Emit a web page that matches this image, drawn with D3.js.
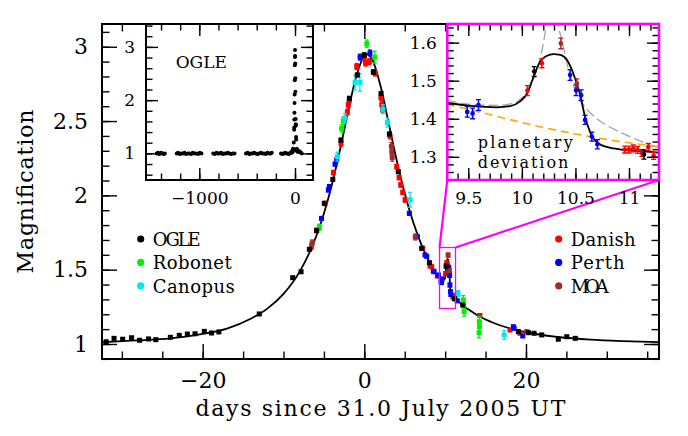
<!DOCTYPE html>
<html><head><meta charset="utf-8">
<script src="https://cdn.jsdelivr.net/npm/d3@7"></script>
<style>
body{margin:0;background:#fff}
svg{display:block}
text{font-family:"DejaVu Serif",serif;fill:#000}
</style>
</head><body>
<svg id="c" width="688" height="436"></svg>
<script>
// ---------------- DATA ----------------
// [days since 31.0 July 2005, magnification, error]
const ogle = [[-31.95,1.015,0.006],[-30.97,1.038,0.006],[-29.9,1.032,0.006],[-28.8,1.042,0.006],[-27.8,1.025,0.006],[-26.7,1.034,0.006],[-25.8,1.029,0.006],[-24.0,1.045,0.006],[-22.9,1.058,0.006],[-21.9,1.067,0.006],[-20.95,1.069,0.006],[-19.8,1.085,0.006],[-18.9,1.074,0.006],[-18.0,1.081,0.006],[-13.0,1.202,0.006],[-8.86,1.446,0.008],[-7.83,1.486,0.008],[-6.8,1.637,0.008],[-5.9,1.762,0.01],[-4.95,1.946,0.01],[-3.9,2.108,0.01],[-2.9,2.372,0.012],[-1.85,2.653,0.012],[-0.87,2.81,0.012],[0.0,2.944,0.015],[1.11,2.83,0.015],[2.07,2.686,0.012],[3.1,2.413,0.012],[4.2,2.159,0.01],[7.1,1.644,0.008],[8.05,1.547,0.008],[10.115,1.524,0.013],[11.14,1.306,0.012],[12.18,1.262,0.006],[19.06,1.083,0.006],[20.3,1.076,0.006],[21.0,1.072,0.006],[21.95,1.061,0.006],[24.0,1.032,0.006],[25.05,1.049,0.006],[26.1,1.038,0.006]];
const robonet = [[-5.57,1.785,0.02],[-2.8,2.45,0.025],[-2.6,2.50,0.025],[0.3,3.02,0.025],[1.3,2.93,0.04],[12.25,1.296,0.03],[12.3,1.256,0.03],[12.35,1.218,0.03],[14.23,1.15,0.035],[14.25,1.116,0.035],[14.2,1.076,0.035]];
const canopus = [[-3.34,2.26,0.03],[-2.39,2.52,0.03],[-1.15,2.76,0.05],[-0.55,2.76,0.06],[2.3,2.58,0.03],[2.85,2.49,0.03],[5.66,1.97,0.05],[11.6,1.34,0.02],[17.3,1.06,0.03]];
const danish = [[-5.9,1.765,0.015],[-4.87,1.946,0.015],[-3.83,2.153,0.015],[-2.88,2.35,0.02],[-2.1,2.56,0.02],[-1.98,2.61,0.02],[-1.85,2.64,0.02],[-0.94,2.867,0.02],[0.0,2.93,0.02],[0.15,2.89,0.02],[0.62,2.90,0.02],[1.32,2.823,0.02],[2.05,2.66,0.02],[2.15,2.61,0.02],[2.25,2.58,0.02],[3.18,2.40,0.02],[4.0,2.193,0.015],[4.3,2.12,0.015],[4.5,2.07,0.015],[4.75,2.02,0.015],[5.04,1.969,0.015],[7.22,1.644,0.012],[8.13,1.525,0.01],[8.34,1.52,0.01],[9.03,1.457,0.01],[10.052,1.474,0.013],[10.187,1.546,0.012],[10.96,1.319,0.009],[11.0,1.319,0.009],[11.04,1.322,0.009],[11.08,1.318,0.009],[11.12,1.31,0.009],[11.18,1.326,0.009],[11.23,1.302,0.009],[14.3,1.192,0.01],[18.03,1.094,0.008],[19.27,1.072,0.008],[20.1,1.083,0.008]];
const perth = [[-5.3,1.845,0.012],[-4.45,2.036,0.012],[-4.33,2.06,0.012],[-3.63,2.21,0.012],[-3.42,2.24,0.012],[-0.53,2.93,0.02],[0.7,2.958,0.02],[5.57,1.879,0.012],[6.56,1.722,0.012],[7.51,1.599,0.01],[7.72,1.59,0.01],[8.54,1.49,0.01],[8.63,1.486,0.01],[9.16,1.464,0.01],[9.49,1.418,0.014],[9.54,1.414,0.014],[9.595,1.436,0.014],[10.45,1.515,0.014],[10.506,1.475,0.014],[10.553,1.462,0.014],[10.59,1.397,0.012],[10.653,1.353,0.012],[10.705,1.333,0.012],[11.5,1.29,0.01],[18.44,1.116,0.01],[18.53,1.106,0.01],[19.6,1.054,0.01]];
const moa = [[-6.55,1.655,0.02],[-6.45,1.68,0.02],[3.35,2.33,0.025],[3.4,2.29,0.025],[3.45,2.255,0.025],[6.3,1.72,0.02],[10.364,1.598,0.014],[10.513,1.493,0.012]];
// OGLE baseline seasons (inset), [day, magnification]
const oglePre = [[-1445,1.00],[-1432,1.01],[-1420,0.99],[-1410,1.00],[-1398,1.01],[-1385,1.00],[-1372,0.99],[-1360,1.00],
 [-1236,1.00],[-1222,1.01],[-1205,0.99],[-1190,1.00],[-1172,1.00],[-1155,1.01],[-1140,0.99],[-1120,1.00],[-1102,1.00],[-1085,0.99],[-1068,1.01],[-1050,1.00],[-1030,1.00],[-1012,0.99],[-995,1.01],[-978,1.00],
 [-854,1.00],[-838,0.99],[-820,1.01],[-805,1.00],[-790,1.00],[-772,1.01],[-755,0.99],[-738,1.00],[-720,1.00],[-702,1.01],[-685,1.00],[-668,0.99],[-650,1.00],[-632,1.00],
 [-512,1.00],[-495,1.01],[-478,0.99],[-462,1.00],[-445,1.00],[-428,1.01],[-410,1.00],[-392,0.99],[-375,1.00],[-358,1.01],[-340,1.00],[-322,1.00],[-305,0.99],[-288,1.01],[-270,1.00],[-255,1.00],[-243,1.01],
 [-146,1.00],[-132,0.99],[-118,1.00],[-104,1.01],[-90,1.00],[-76,1.00],[-62,0.99],[-48,1.01],[-38,1.01],
 [40,1.03],[47,1.04],[55,1.02],[62,1.01],[70,1.00]];
// best-fit model (black)
const modelT = [-32.5,-28,-24,-20,-17,-14,-12,-10,-8,-6,-5,-4,-3,-2,-1,0,0.35,1,2,3,4,5,6,7,8,9,9.3,9.55,9.765,9.89,9.98,10.05,10.11,10.17,10.23,10.295,10.36,10.42,10.48,10.54,10.59,10.65,10.715,10.855,11.1,11.27,11.6,12,13,14,16,20,24,28,32,36.5];
const modelA = [1.013,1.024,1.038,1.068,1.104,1.172,1.238,1.337,1.487,1.718,1.878,2.075,2.31,2.567,2.80,2.938,2.948,2.912,2.737,2.489,2.236,2.012,1.827,1.677,1.557,1.460,1.442,1.433,1.430,1.433,1.445,1.467,1.511,1.550,1.565,1.570,1.568,1.555,1.519,1.467,1.405,1.357,1.335,1.322,1.315,1.311,1.292,1.268,1.228,1.193,1.141,1.079,1.047,1.029,1.019,1.012];
// point-lens without planet (orange dashed)
const plT = [9.3,9.6,9.9,10.2,10.5,10.8,11.1,11.3];
const plA = [1.438,1.418,1.397,1.377,1.360,1.345,1.333,1.325];
// alternative model (grey dashed)
const altT = [9.3,9.45,9.61,9.77,9.92,10.0,10.08,10.13,10.17,10.2,10.227,10.25,10.27,10.31,10.34,10.365,10.39,10.435,10.5,10.575,10.7,10.85,11.0,11.17,11.3];
const altA = [1.449,1.440,1.436,1.435,1.441,1.455,1.488,1.520,1.558,1.598,1.645,1.70,1.76,1.76,1.649,1.615,1.585,1.528,1.475,1.437,1.400,1.374,1.354,1.334,1.322];
// legend
const legendLeft = ["OGLE","Robonet","Canopus"];
const legendRight = ["Danish","Perth","MOA"];
const mainXTicks = [-20,0,20], mainYTicks = [1,1.5,2,2.5,3];
const ogleXTicks = [-1000,0], ogleYTicks = [1,2,3];
const devXTicks = [9.5,10,10.5,11], devYTicks = [1.3,1.4,1.5,1.6];

// ---------------- STYLE ----------------
const colors = {OGLE:"#000000",Robonet:"#00ee00",Canopus:"#00e8f0",Danish:"#ff0000",Perth:"#0000ff",MOA:"#a52a2a"};
const seriesData = {OGLE:ogle,Robonet:robonet,Canopus:canopus,Danish:danish,Perth:perth,MOA:moa};
const drawOrder = ["Danish","Perth","MOA","Robonet","Canopus","OGLE"];
const MAGENTA = "#ff00ff";
const fmt = d => (d<0?"\u2212":"") + Math.abs(d);

const svg = d3.select("#c");
const defs = svg.append("defs");

// scales
const xM = d3.scaleLinear().domain([-32.46,36.46]).range([102,659]);
const yM = d3.scaleLinear().domain([0.899,3.153]).range([359,24]);
const xO = d3.scaleLinear().domain([-1557,188]).range([146,313]);
const yO = d3.scaleLinear().domain([0.5,3.43]).range([180,24]);
const xD = d3.scaleLinear().domain([9.304,11.28]).range([447.3,659]);
const yD = d3.scaleLinear().domain([1.239,1.649]).range([180,24]);

function clip(id, x, y){
  const [x0,x1]=x.range(), [y1,y0]=y.range();
  defs.append("clipPath").attr("id",id).append("rect").attr("x",x0).attr("y",y0).attr("width",x1-x0).attr("height",y1-y0);
}
clip("cM",xM,yM); clip("cO",xO,yO); clip("cD",xD,yD);

function axes(g, x, y, o){
  const [xa,xb]=x.range(), [yb,ya]=y.range();
  const mk = (axis, tr, vals, size, f, pad) => {
    const a = g.append("g").attr("transform",tr)
      .call(axis.tickValues(vals).tickSize(-size).tickPadding(pad||0).tickFormat(f||(()=>"")));
    a.select(".domain").remove();
    a.attr("font-family",null).attr("font-size",null);
    a.selectAll("line").attr("stroke","#000").attr("stroke-width",1.4);
    a.selectAll("text").attr("font-size",o.fs).attr("fill","#000");
  };
  mk(d3.axisBottom(x),`translate(0,${yb})`,o.xMin,o.l);
  mk(d3.axisBottom(x),`translate(0,${yb})`,o.xMaj,o.L,fmt,o.padX);
  mk(d3.axisTop(x),`translate(0,${ya})`,o.xMin,o.l);
  mk(d3.axisTop(x),`translate(0,${ya})`,o.xMaj,o.L);
  mk(d3.axisLeft(y),`translate(${xa},0)`,o.yMin,o.l);
  mk(d3.axisLeft(y),`translate(${xa},0)`,o.yMaj,o.L,fmt,o.padY);
  mk(d3.axisRight(y),`translate(${xb},0)`,o.yMin,o.l);
  mk(d3.axisRight(y),`translate(${xb},0)`,o.yMaj,o.L);
}

function points(g, data, x, y, color, mode){
  const gg = g.append("g");
  gg.selectAll("line.eb").data(data).join("line").attr("class","eb")
    .attr("x1",d=>x(d[0])).attr("x2",d=>x(d[0]))
    .attr("y1",d=>y(d[1]-d[2])).attr("y2",d=>y(d[1]+d[2]))
    .attr("stroke",color).attr("stroke-width",mode==="sq"?1.3:1.5);
  const cw = mode==="sq"?2:2.5;
  ["lo","hi"].forEach((k,i)=>{
    gg.selectAll("line.c"+k).data(data).join("line").attr("class","c"+k)
      .attr("x1",d=>x(d[0])-cw).attr("x2",d=>x(d[0])+cw)
      .attr("y1",d=>y(d[1]+(i?d[2]:-d[2]))).attr("y2",d=>y(d[1]+(i?d[2]:-d[2])))
      .attr("stroke",color).attr("stroke-width",1.3);
  });
  if(mode==="sq"){
    const s=5;
    gg.selectAll("rect").data(data).join("rect")
      .attr("x",d=>x(d[0])-s/2).attr("y",d=>y(d[1])-s/2).attr("width",s).attr("height",s)
      .attr("fill",color);
  } else {
    gg.selectAll("circle").data(data).join("circle")
      .attr("cx",d=>x(d[0])).attr("cy",d=>y(d[1])).attr("r",2.3).attr("fill",color);
  }
}

const zip = (t,a) => t.map((v,i)=>[v,a[i]]);
const model = zip(modelT, modelA);

// ---------------- MAIN PANEL ----------------
const gM = svg.append("g");
const lineM = d3.line().x(d=>xM(d[0])).y(d=>yM(d[1])).curve(d3.curveMonotoneX);
gM.append("path").attr("clip-path","url(#cM)").attr("d",lineM(model))
  .attr("fill","none").attr("stroke","#000").attr("stroke-width",1.8);
const gMd = gM.append("g").attr("clip-path","url(#cM)");
drawOrder.forEach(n=>points(gMd, seriesData[n], xM, yM, colors[n], "sq"));
axes(gM, xM, yM, {xMaj:mainXTicks, xMin:d3.range(-30,36,5), yMaj:mainYTicks, yMin:d3.range(9,32).map(v=>v/10), L:15, l:7.5, fs:22, padX:13, padY:14});
gM.append("rect").attr("x",102).attr("y",24).attr("width",557).attr("height",335)
  .attr("fill","none").attr("stroke","#000").attr("stroke-width",2);

// labels
svg.append("text").attr("x",380.5).attr("y",416).attr("text-anchor","middle")
  .attr("font-size",22).attr("textLength",370).attr("lengthAdjust","spacing")
  .text("days since 31.0 July 2005 UT");
svg.append("text").attr("transform","translate(33,191.5) rotate(-90)").attr("text-anchor","middle")
  .attr("font-size",22).attr("textLength",164).attr("lengthAdjust","spacing")
  .text("Magnification");

// legends
const lw = {OGLE:48,Robonet:79,Canopus:82,Danish:65,Perth:54,MOA:38};
[[legendLeft,140.7,152.7],[legendRight,558.7,570.7]].forEach(([names,cx,tx])=>{
  names.forEach((n,i)=>{
    svg.append("circle").attr("cx",cx).attr("cy",239+i*23.4).attr("r",3.6).attr("fill",colors[n]);
    svg.append("text").attr("x",tx).attr("y",245.7+i*23.4).attr("font-size",18)
      .attr("textLength",lw[n]).attr("lengthAdjust","spacing").text(n);
  });
});

// zoom box + connectors
const bx0=xM(xD.domain()[0]), bx1=xM(xD.domain()[1]);
const by0=yM(yD.domain()[1]), by1=yM(yD.domain()[0]);
svg.append("rect").attr("x",bx0).attr("y",by0).attr("width",bx1-bx0).attr("height",by1-by0)
  .attr("fill","none").attr("stroke",MAGENTA).attr("stroke-width",1.3);
svg.append("line").attr("x1",xD.range()[0]).attr("y1",180).attr("x2",bx0).attr("y2",by0)
  .attr("stroke",MAGENTA).attr("stroke-width",2.2);
svg.append("line").attr("x1",xD.range()[1]).attr("y1",180).attr("x2",bx1).attr("y2",by0)
  .attr("stroke",MAGENTA).attr("stroke-width",2.2);

// ---------------- OGLE INSET ----------------
const gO = svg.append("g");
gO.append("rect").attr("x",146).attr("y",24).attr("width",167).attr("height",156).attr("fill","#fff");
const gOd = gO.append("g").attr("clip-path","url(#cO)");
gOd.selectAll("circle.p").data(oglePre.concat(ogle.map(d=>[d[0],d[1]]))).join("circle").attr("class","p")
  .attr("cx",d=>xO(d[0])).attr("cy",d=>yO(d[1])).attr("r",2).attr("fill","#000");
axes(gO, xO, yO, {xMaj:ogleXTicks, xMin:d3.range(-1400,188,200), yMaj:ogleYTicks, yMin:d3.range(3,18).map(v=>v/5), L:12, l:6.5, fs:17, padX:12, padY:11});
gO.append("rect").attr("x",146).attr("y",24).attr("width",167).attr("height",156)
  .attr("fill","none").attr("stroke","#000").attr("stroke-width",2);
gO.append("text").attr("x",175.7).attr("y",68.3).attr("font-size",17).text("OGLE");

// ---------------- DEVIATION INSET ----------------
const gD = svg.append("g");
gD.append("rect").attr("x",447.3).attr("y",24).attr("width",211.7).attr("height",156).attr("fill","#fff");
const lineD = d3.line().x(d=>xD(d[0])).y(d=>yD(d[1])).curve(d3.curveMonotoneX);
const gDc = gD.append("g").attr("clip-path","url(#cD)");
gDc.append("path").attr("d",lineD(zip(altT,altA))).attr("fill","none")
  .attr("stroke","#a8a8a8").attr("stroke-width",1.4).attr("stroke-dasharray","10,4");
gDc.append("path").attr("d",lineD(zip(plT,plA))).attr("fill","none")
  .attr("stroke","#ffa500").attr("stroke-width",1.6).attr("stroke-dasharray","8,5");
gDc.append("path").attr("d",lineD(model)).attr("fill","none")
  .attr("stroke","#000").attr("stroke-width",1.8);
const inD = d => d[0]>=9.25 && d[0]<=11.3;
drawOrder.forEach(n=>points(gDc, seriesData[n].filter(inD), xD, yD, colors[n], "dot"));
axes(gD, xD, yD, {xMaj:devXTicks, xMin:d3.range(94,113).map(v=>v/10), yMaj:devYTicks, yMin:d3.range(63,83).map(v=>v/50), L:12, l:6.5, fs:17, padX:12, padY:10.6});
gD.append("text").attr("x",477.7).attr("y",147.5).attr("font-size",16).attr("textLength",95).attr("lengthAdjust","spacing").text("planetary");
gD.append("text").attr("x",477.7).attr("y",167.5).attr("font-size",16).attr("textLength",90.6).attr("lengthAdjust","spacing").text("deviation");
gD.append("rect").attr("x",447.3).attr("y",24).attr("width",211.7).attr("height",156)
  .attr("fill","none").attr("stroke",MAGENTA).attr("stroke-width",2.6);
</script>
</body></html>
